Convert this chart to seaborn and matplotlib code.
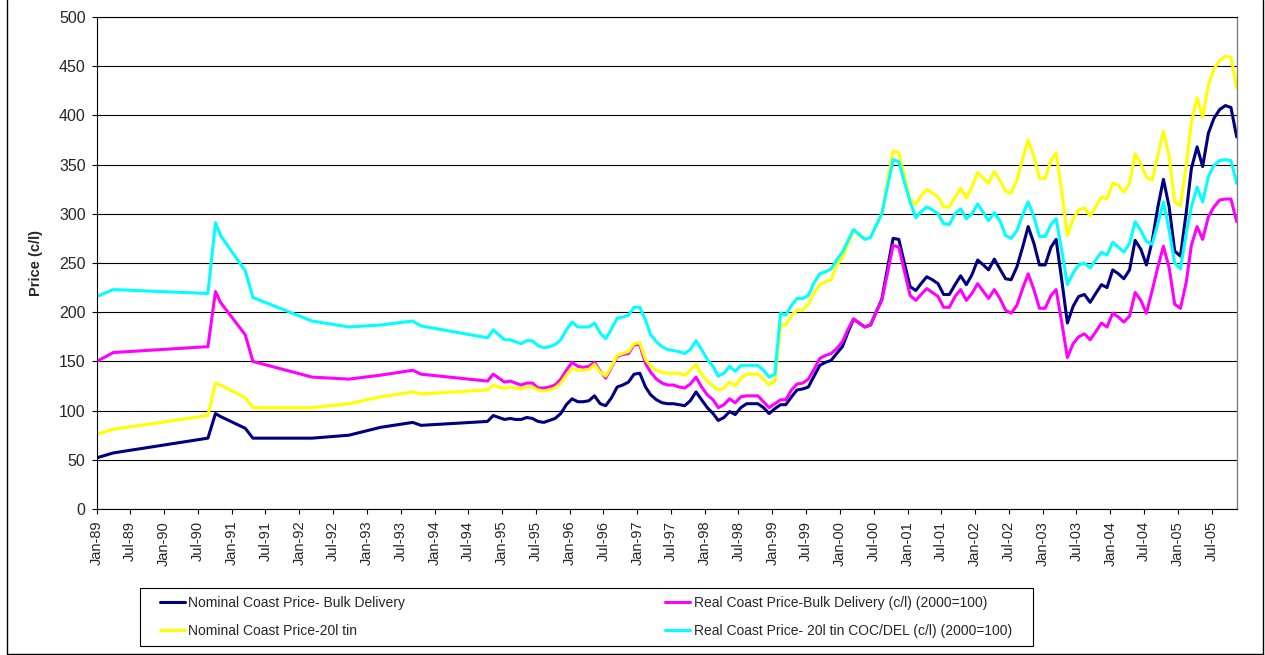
import pandas as pd
import matplotlib.pyplot as plt
import matplotlib.dates as mdates
from matplotlib.patches import Rectangle
from matplotlib.lines import Line2D
import seaborn as sns

sns.set_style('white')
plt.rcParams['font.family'] = ['Liberation Sans', 'DejaVu Sans']

# series names (Excel order)
s_nom_bulk = 'Nominal Coast Price- Bulk Delivery'
s_real_bulk = 'Real Coast Price-Bulk Delivery (c/l) (2000=100)'
s_nom_tin = 'Nominal Coast Price-20l tin'
s_real_tin = 'Real Coast Price- 20l tin COC/DEL (c/l) (2000=100)'

# sparse observations 1989-1993
early_dates = ['1989-01-01', '1989-04-01', '1990-08-25', '1990-10-05', '1990-11-01',
               '1991-03-15', '1991-04-25', '1992-03-10', '1992-09-25', '1993-03-15',
               '1993-09-05', '1993-10-20']
nom_bulk_early = [52, 57, 72, 97, 94, 82, 72, 72, 75, 83, 88, 85]
real_bulk_early = [150, 159, 165, 221, 210, 177, 150, 134, 132, 136, 141, 137]
nom_tin_early = [76, 81, 95, 128, 126, 113, 103, 103, 107, 114, 119, 117]
real_tin_early = [216, 223, 219, 291, 278, 242, 215, 191, 185, 187, 191, 186]

# monthly observations Oct-94 .. Nov-05
monthly_start = '1994-10-01'
nom_bulk = [89, 95, 93, 91, 92, 91, 91, 93, 92, 89, 88, 90, 92, 97, 106,
            112, 109, 109, 110, 115, 107, 105, 113, 124, 126, 129, 137,
            138, 124, 116, 111, 108, 107, 107, 106, 105, 110, 119, 111,
            103, 97, 90, 93, 99, 96, 103, 107, 107, 107, 103, 97,
            102, 106, 106, 114, 121, 122, 124, 135, 146, 149, 151, 158,
            165, 180, 193, 189, 185, 187, 200, 213, 245, 275, 274, 250,
            226, 222, 229, 236, 233, 229, 218, 218, 228, 237, 228, 238,
            253, 248, 243, 254, 244, 234, 233, 246, 266, 287, 270, 248,
            248, 266, 274, 232, 189, 206, 216, 218, 210, 219, 228, 225,
            243, 239, 234, 243, 273, 264, 248, 272, 307, 335, 307, 262,
            257, 301, 346, 368, 348, 382, 397, 406, 410, 408, 378]
real_bulk = [130, 137, 133, 129, 130, 128, 126, 128, 128, 123, 123, 124, 126, 132, 141,
             149, 145, 144, 145, 149, 140, 133, 144, 155, 157, 158, 167,
             167, 148, 139, 132, 128, 126, 126, 124, 123, 127, 134, 124,
             116, 111, 103, 106, 112, 108, 114, 115, 115, 115, 109, 103,
             107, 111, 111, 121, 127, 128, 132, 142, 153, 156, 158, 163,
             170, 183, 193, 189, 185, 187, 200, 212, 240, 268, 266, 242,
             217, 212, 218, 224, 220, 216, 205, 205, 216, 223, 212, 219,
             229, 221, 214, 223, 214, 202, 199, 207, 224, 239, 223, 204,
             204, 217, 223, 189, 154, 168, 175, 178, 172, 180, 189, 185,
             199, 195, 190, 196, 220, 212, 199, 222, 246, 267, 245, 208,
             204, 230, 268, 287, 274, 297, 307, 314, 315, 315, 292]
nom_tin = [121, 126, 124, 123, 124, 123, 122, 124, 124, 121, 120, 121, 123, 128, 136,
           143, 141, 141, 142, 147, 139, 135, 145, 156, 158, 160, 168,
           169, 152, 145, 141, 139, 138, 138, 138, 136, 141, 147, 137,
           130, 125, 121, 123, 129, 125, 133, 137, 137, 137, 132, 126,
           130, 187, 187, 197, 202, 202, 208, 220, 228, 231, 233, 248,
           255, 270, 283, 278, 274, 276, 288, 300, 333, 364, 362, 338,
           314, 310, 318, 325, 321, 317, 307, 307, 317, 326, 316, 327,
           342, 336, 331, 343, 334, 323, 321, 334, 356, 375, 358, 336,
           336, 354, 362, 322, 278, 295, 304, 306, 298, 307, 317, 315,
           331, 329, 322, 331, 361, 351, 337, 334, 360, 384, 358, 312,
           308, 349, 393, 418, 398, 431, 447, 456, 460, 459, 428]
real_tin = [174, 182, 177, 172, 172, 170, 168, 171, 171, 166, 164, 165, 167, 172, 182,
            190, 185, 185, 185, 189, 179, 173, 183, 194, 195, 197, 205,
            205, 192, 177, 170, 165, 162, 161, 160, 158, 162, 171, 162,
            152, 145, 135, 138, 145, 140, 146, 146, 146, 146, 141, 134,
            137, 199, 197, 207, 214, 214, 217, 230, 239, 241, 244, 253,
            261, 273, 284, 279, 274, 276, 288, 300, 328, 355, 353, 332,
            312, 296, 302, 307, 304, 300, 290, 289, 300, 305, 295, 300,
            310, 301, 293, 301, 293, 278, 275, 283, 299, 312, 297, 277,
            277, 289, 295, 262, 228, 240, 248, 250, 245, 253, 261, 258,
            271, 266, 261, 270, 292, 283, 272, 269, 290, 312, 283, 250,
            244, 280, 307, 327, 312, 338, 349, 354, 355, 354, 331]

palette = {s_nom_bulk: '#000080', s_real_bulk: '#FF00FF',
           s_nom_tin: '#FFFF00', s_real_tin: '#00FFFF'}

dates = list(pd.to_datetime(early_dates)) + list(
    pd.date_range(monthly_start, periods=len(nom_bulk), freq='MS') + pd.Timedelta(days=13))

frames = []
for name, early, monthly in [(s_nom_bulk, nom_bulk_early, nom_bulk),
                             (s_real_bulk, real_bulk_early, real_bulk),
                             (s_nom_tin, nom_tin_early, nom_tin),
                             (s_real_tin, real_tin_early, real_tin)]:
    frames.append(pd.DataFrame({'Date': dates, 'Price': early + monthly, 'Series': name}))
df = pd.concat(frames, ignore_index=True)

fig = plt.figure(figsize=(12.65, 6.55), dpi=100)
ax = fig.add_axes([96.7 / 1265, 1 - 509 / 655, (1236.7 - 96.7) / 1265, (509 - 17) / 655])

sns.lineplot(data=df, x='Date', y='Price', hue='Series', palette=palette,
             hue_order=[s_nom_bulk, s_real_bulk, s_nom_tin, s_real_tin],
             linewidth=2.2, errorbar=None, ax=ax)

ax.set_ylim(0, 500)
ax.set_yticks(range(0, 501, 50))
ax.set_xlim(pd.Timestamp('1989-01-01'), dates[-1])
ax.xaxis.set_major_locator(mdates.MonthLocator(bymonth=[1, 7]))
ax.xaxis.set_major_formatter(mdates.DateFormatter('%b-%y'))
ax.tick_params(axis='x', rotation=90, labelsize=10.5, direction='out', length=3.5,
               width=0.8, pad=5, color='black', bottom=True)
ax.tick_params(axis='y', labelsize=11.5, direction='out', length=3.5, width=0.8,
               pad=4.5, color='black', left=True)
ax.grid(axis='y', color='black', linewidth=0.8)
ax.grid(axis='x', visible=False)
for side in ['left', 'bottom', 'top']:
    ax.spines[side].set_color('black')
    ax.spines[side].set_linewidth(0.8)
ax.spines['right'].set_color('#808080')
ax.spines['right'].set_linewidth(1.0)

ax.set_xlabel('')
ax.set_ylabel('Price (c/l)', fontsize=10.5, fontweight='bold')
ax.yaxis.set_label_coords(-0.047, 0.5)

# legend: Excel fills rows, matplotlib fills columns
handles, labels = ax.get_legend_handles_labels()
order = [0, 2, 1, 3]
ax.legend([handles[i] for i in order], [labels[i] for i in order], ncol=2,
          loc='upper left', bbox_to_anchor=(160 / 1265, 1 - 596 / 655),
          bbox_transform=fig.transFigure, frameon=False, borderpad=0,
          borderaxespad=0, handlelength=1.8, handletextpad=0.25,
          columnspacing=18.7, labelspacing=1.0, fontsize=10)

fig.patches.append(Rectangle((139.5 / 1265, 1 - 645.5 / 655), (1032.5 - 139.5) / 1265,
                             (645.5 - 588) / 655, fill=False, edgecolor='black',
                             linewidth=0.8, transform=fig.transFigure))

# outer chart frame
fig.lines.append(Line2D([7.5 / 1265, 7.5 / 1265], [0, 1], color='black', lw=1, transform=fig.transFigure))
fig.lines.append(Line2D([1263 / 1265, 1263 / 1265], [0, 1], color='black', lw=1, transform=fig.transFigure))
fig.lines.append(Line2D([7.5 / 1265, 1263 / 1265], [0.8 / 655, 0.8 / 655], color='black', lw=1, transform=fig.transFigure))

fig.savefig('out.png', dpi=100)
